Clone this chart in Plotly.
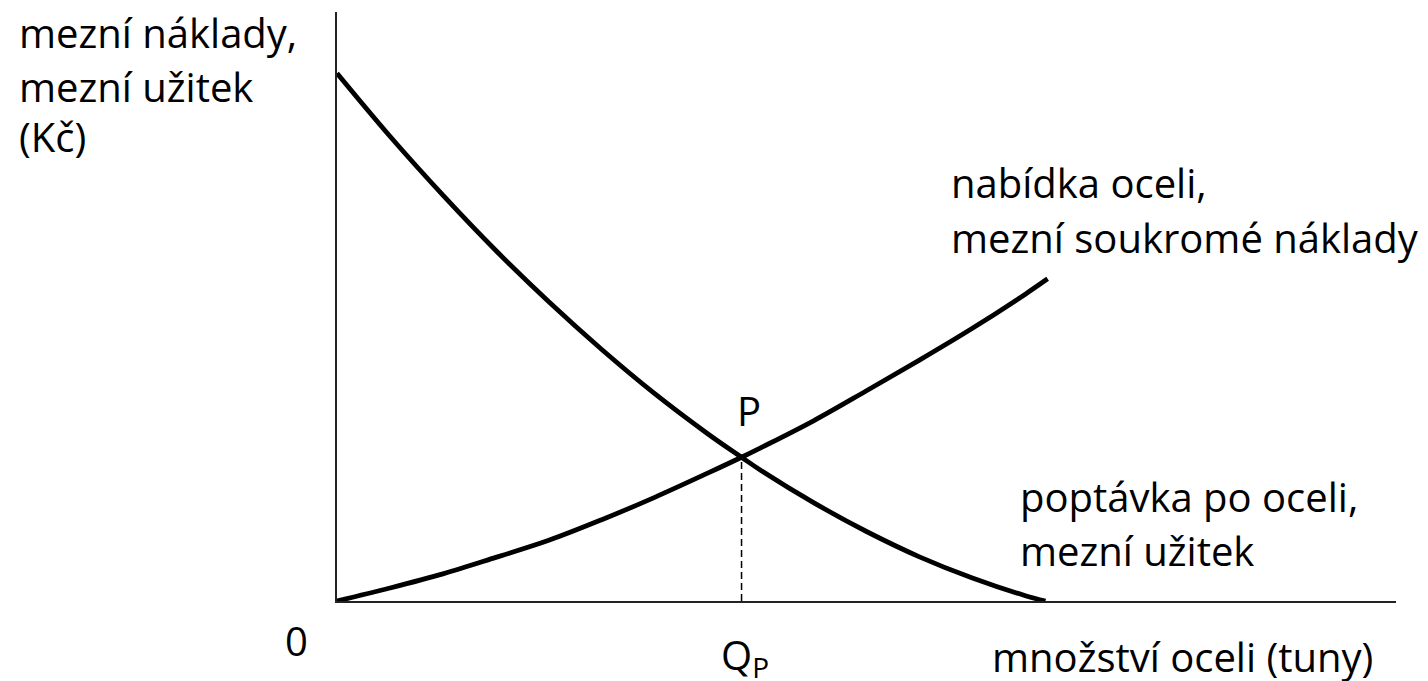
import plotly.graph_objects as go

# values (axis units: quantity 0-10, price 0-10)
demand_q = [0, 0.5, 1.0, 1.5, 2.0, 2.5, 3.0, 3.5, 3.82, 4.0, 4.5, 5.0, 5.5, 6.0, 6.5, 6.69]
demand_p = [8.96, 7.89, 6.89, 5.95, 5.08, 4.27, 3.52, 2.84, 2.44, 2.22, 1.67, 1.18, 0.75, 0.39, 0.09, 0.0]

supply_q = [0, 0.5, 1.0, 1.5, 2.0, 2.5, 3.0, 3.5, 3.82, 4.0, 4.5, 5.0, 5.5, 6.0, 6.5, 6.71]
supply_p = [0, 0.22, 0.46, 0.74, 1.03, 1.38, 1.76, 2.17, 2.44, 2.60, 3.06, 3.57, 4.09, 4.63, 5.21, 5.47]

q_eq = 3.82
p_eq = 2.44

FONT = 'Open Sans'
FS = 40
BLACK = '#000000'

fig = go.Figure()

fig.add_trace(go.Scatter(
    x=demand_q, y=demand_p, mode='lines',
    line=dict(color=BLACK, width=4.8, shape='spline', smoothing=1),
    showlegend=False, hoverinfo='skip'
))
fig.add_trace(go.Scatter(
    x=supply_q, y=supply_p, mode='lines',
    line=dict(color=BLACK, width=4.8, shape='spline', smoothing=1),
    showlegend=False, hoverinfo='skip'
))
fig.add_trace(go.Scatter(
    x=[q_eq, q_eq], y=[0, p_eq], mode='lines',
    line=dict(color=BLACK, width=1.5, dash='7px,4px'),
    showlegend=False, hoverinfo='skip'
))

# labels placed in paper coordinates (plot area = 0..1)
texts = [
    # text, x, y, xanchor
    ('mezní náklady,', -0.302, 0.966, 'left'),
    ('mezní užitek', -0.302, 0.874, 'left'),
    ('(Kč)', -0.302, 0.788, 'left'),
    ('nabídka oceli,', 0.578, 0.711, 'left'),
    ('mezní soukromé náklady', 0.578, 0.617, 'left'),
    ('P', 0.389, 0.324, 'center'),
    ('poptávka po oceli,', 0.643, 0.177, 'left'),
    ('mezní užitek', 0.643, 0.086, 'left'),
    ('0', -0.038, -0.067, 'center'),
    ('Q<sub>P</sub>', 0.385, -0.094, 'center'),
    ('množství oceli (tuny)', 0.617, -0.094, 'left'),
]
for t, x, y, xa in texts:
    fig.add_annotation(
        x=x, y=y, xref='paper', yref='paper', text=t, showarrow=False,
        xanchor=xa, yanchor='middle',
        font=dict(family=FONT, size=FS, color=BLACK)
    )

fig.update_xaxes(
    range=[0, 10], showline=True, linecolor='#222222', linewidth=2,
    showgrid=False, zeroline=False, showticklabels=False, ticks=''
)
fig.update_yaxes(
    range=[0, 10], showline=True, linecolor='#222222', linewidth=2,
    showgrid=False, zeroline=False, showticklabels=False, ticks=''
)
# page body adds an 8px offset, so the figure is sized to fit the window
fig.update_layout(
    width=1420, height=673,
    margin=dict(l=329, r=32, t=4, b=80),
    plot_bgcolor='white', paper_bgcolor='white',
    font=dict(family=FONT, size=FS, color=BLACK)
)

fig.write_html('out.html')
